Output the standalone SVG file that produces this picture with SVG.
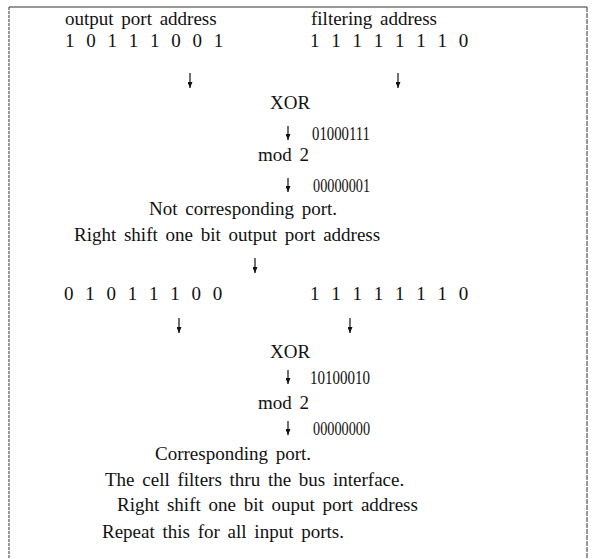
<svg xmlns="http://www.w3.org/2000/svg" width="596" height="559" viewBox="0 0 596 559">
<style>
text{font-family:"Liberation Serif","Times New Roman",serif;font-size:19px;fill:#111;word-spacing:3px}
.bits{word-spacing:7px}
.arr{stroke:#111;stroke-width:1.2;fill:none;marker-end:url(#ah)}
</style>
<defs>
<marker id="ah" markerWidth="6" markerHeight="5" refX="6" refY="2.5" orient="auto" markerUnits="userSpaceOnUse" viewBox="0 0 6 5">
<path d="M0,0 L6,2.5 L0,5 Z" fill="#111"/>
</marker>
</defs>
<rect width="596" height="559" fill="#fff"/>
<g id="frame" fill="none" stroke="#333">
<line x1="9" y1="7" x2="587" y2="7" stroke-width="1.2"/>
<line x1="9" y1="7" x2="9" y2="559" stroke-width="1" stroke-dasharray="3 1"/>
<line x1="587" y1="7" x2="587" y2="559" stroke-width="1" stroke-dasharray="5 1"/>
</g>
<g id="n1"><text x="65" y="25">output port address</text></g>
<g id="n2"><text x="311" y="25">filtering address</text></g>
<g id="n3"><text class="bits" x="65" y="47">1 0 1 1 1 0 0 1</text></g>
<g id="n4"><text class="bits" x="310" y="47">1 1 1 1 1 1 1 0</text></g>
<g id="n5"><text x="270" y="109">XOR</text></g>
<g id="n6"><text x="312" y="140" textLength="58" lengthAdjust="spacingAndGlyphs">01000111</text></g>
<g id="n7"><text x="258" y="161">mod 2</text></g>
<g id="n8"><text x="313" y="192" textLength="57" lengthAdjust="spacingAndGlyphs">00000001</text></g>
<g id="n9"><text x="149" y="215">Not corresponding port.</text></g>
<g id="n10"><text x="74" y="241">Right shift one bit output port address</text></g>
<g id="n11"><text class="bits" x="64" y="300">0 1 0 1 1 1 0 0</text></g>
<g id="n12"><text class="bits" x="310" y="300">1 1 1 1 1 1 1 0</text></g>
<g id="n13"><text x="270" y="358">XOR</text></g>
<g id="n14"><text x="310" y="384" textLength="60" lengthAdjust="spacingAndGlyphs">10100010</text></g>
<g id="n15"><text x="258" y="409">mod 2</text></g>
<g id="n16"><text x="313" y="435" textLength="57" lengthAdjust="spacingAndGlyphs">00000000</text></g>
<g id="n17"><text x="155" y="460">Corresponding port.</text></g>
<g id="n18"><text x="105" y="486">The cell filters thru the bus interface.</text></g>
<g id="n19"><text x="117" y="511">Right shift one bit ouput port address</text></g>
<g id="n20"><text x="102" y="538">Repeat this for all input ports.</text></g>
<g id="connectors">
<line class="arr" x1="190" y1="73" x2="190" y2="88"/>
<line class="arr" x1="398" y1="73" x2="398" y2="88"/>
<line class="arr" x1="288" y1="126" x2="288" y2="140"/>
<line class="arr" x1="288" y1="178" x2="288" y2="192"/>
<line class="arr" x1="255" y1="258" x2="255" y2="273"/>
<line class="arr" x1="179" y1="318" x2="179" y2="333"/>
<line class="arr" x1="350" y1="318" x2="350" y2="333"/>
<line class="arr" x1="288" y1="370" x2="288" y2="384"/>
<line class="arr" x1="288" y1="421" x2="288" y2="435"/>
</g>
</svg>
